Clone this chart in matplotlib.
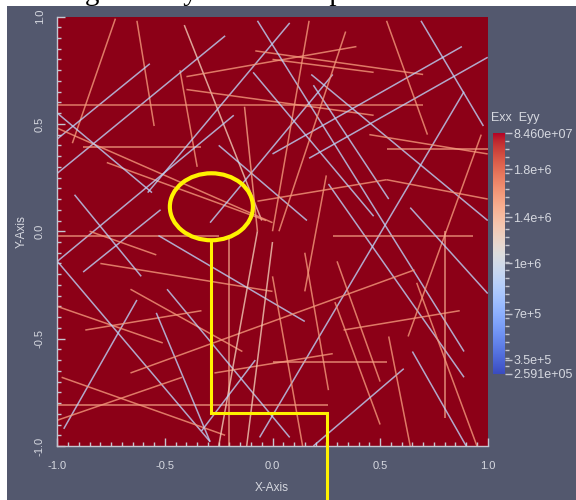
import numpy as np
import matplotlib
matplotlib.use("Agg")
import matplotlib.pyplot as plt
from matplotlib.collections import LineCollection
from matplotlib.colors import FuncNorm
from matplotlib.patches import Ellipse, Rectangle
from matplotlib.ticker import MultipleLocator, FixedLocator

plt.rcParams["font.family"] = ["Liberation Sans", "DejaVu Sans"]

# Fracture segments: endpoints in model coordinates and the strain carried by each
frac_x0 = [-0.73, -0.63, -0.43, -0.41, -0.22, -0.57, -1.00, -0.88, -1.00, -0.77,
           -1.00, 0.08, -0.18, -0.52, -0.25, -0.29, -0.13, -0.40, -0.40, -0.08,
           0.00, -0.07, 0.18, 0.19, 0.26, 0.88, 1.00, 0.53, 0.69, 0.89,
           0.97, 0.45, 0.53, -0.07, 0.53, 0.25, 0.17, 0.34, -1.00, -0.20,
           -1.00, -0.85, -0.80, -0.66, -0.53, -0.49, -0.63, -0.87, -1.00, -1.00,
           -0.54, -0.66, -0.98, -1.00, -0.27, -0.07, 0.00, -0.08, 0.28, 0.80,
           0.64, 0.15, 0.67, 0.33, 0.30, 0.29, 0.61, 0.65, 0.54, 0.00,
           0.00, -0.92, -0.09]
frac_y0 = [0.99, 0.98, 0.75, 0.96, 0.91, 0.78, 0.59, 0.39, 0.48, 0.32,
           0.55, 0.97, 0.54, 0.10, 0.40, 0.04, 0.58, 0.72, 0.66, 0.84,
           0.80, 0.98, 0.73, 0.68, 0.22, 0.86, 0.81, 0.98, 0.98, 0.65,
           0.45, 0.45, 0.385, 0.14, 0.24, 0.26, 0.98, 0.93, -0.02, -0.03,
           -0.81, 0.00, -0.15, -0.27, -0.02, -0.27, -0.32, -0.46, -0.35, -0.14,
           -0.38, -0.66, -0.68, -0.88, -0.66, 0.00, -0.05, -0.60, -0.02, 0.00,
           0.11, -0.10, -0.24, -0.46, -0.14, -0.33, -0.64, -0.56, -0.49, -0.61,
           -0.21, 0.17, 0.74]
frac_x1 = [-0.93, -0.55, -0.35, -0.05, -1.00, -1.00, 0.70, -0.33, 0.00, -0.03,
           -0.56, -0.58, -1.00, -0.88, 0.16, 0.28, -0.07, 0.39, 0.47, 0.70,
           0.47, 0.89, 1.00, 0.54, 0.89, 0.00, 0.17, 0.72, 0.98, -0.06,
           0.63, 1.00, 1.00, 0.53, 1.00, 0.15, 0.00, 0.03, -0.25, -0.20,
           0.26, -0.54, 0.00, -0.14, 0.15, 0.08, -0.97, -0.33, -0.51, -0.29,
           -0.29, 0.66, -0.22, -0.42, 0.28, -0.25, -0.12, -0.33, 0.93, 0.80,
           1.00, 0.26, 0.95, 0.87, 0.50, 0.50, 0.19, 0.90, 0.64, 0.53,
           0.14, -0.61, 0.47]
frac_y1 = [0.41, 0.49, 0.30, 0.05, 0.27, 0.43, 0.59, 0.39, 0.04, 0.05,
           0.18, 0.18, -0.14, -0.19, 0.05, 0.73, 0.00, 0.86, 0.54, 0.73,
           0.74, -0.56, 0.05, 0.15, -0.68, 0.36, 0.34, 0.45, 0.49, -0.96,
           -0.49, 0.36, 0.385, 0.24, 0.15, -0.28, 0.00, 0.00, -0.02, -1.00,
           -0.81, -0.11, -0.28, -0.56, -0.42, -0.96, -0.92, -0.37, -0.52, -0.98,
           -0.98, -0.18, -0.95, -0.68, -0.57, -1.00, -1.00, -0.93, -0.02, -0.87,
           -0.29, -0.74, -1.00, -0.37, -0.70, -0.90, -1.00, -1.00, -1.00, -0.61,
           -1.00, -0.21, 0.07]
frac_strain = [1.6e6, 1.6e6, 1.6e6, 1.3e6, 9.0e5, 9.0e5, 1.6e6, 1.55e6, 1.6e6, 1.6e6,
               9.0e5, 9.0e5, 9.0e5, 9.0e5, 9.0e5, 9.0e5, 1.55e6, 1.6e6, 1.6e6, 1.6e6,
               1.6e6, 9.0e5, 9.0e5, 9.0e5, 9.0e5, 9.0e5, 9.0e5, 1.6e6, 9.0e5, 9.0e5,
               1.6e6, 1.6e6, 1.55e6, 1.6e6, 1.6e6, 1.6e6, 1.6e6, 1.6e6, 1.55e6, 1.5e6,
               1.55e6, 1.6e6, 1.6e6, 1.6e6, 9.0e5, 9.0e5, 9.0e5, 1.6e6, 1.6e6, 9.0e5,
               9.0e5, 1.6e6, 1.6e6, 1.6e6, 1.6e6, 1.3e6, 1.3e6, 9.0e5, 1.55e6, 1.5e6,
               9.0e5, 1.6e6, 1.6e6, 1.6e6, 1.6e6, 1.6e6, 9.0e5, 9.0e5, 1.6e6, 1.55e6,
               1.6e6, 9.0e5, 9.0e5]

# Colour scale: strain levels and where each sits along the bar (0 = bottom, 1 = top)
cbar_levels = [2.591e5, 3.5e5, 7e5, 1e6, 1.4e6, 1.8e6, 8.46e7]
cbar_frac = [0.0, 0.06, 0.25, 0.46, 0.65, 0.85, 1.0]
cbar_labels = ["2.591e+05", "3.5e+5", "7e+5", "1e+6", "1.4e+6", "1.8e+6", "8.460e+07"]
cbar_title = "Exx  Eyy"

x_ticks = [-1.0, -0.5, 0.0, 0.5, 1.0]
y_ticks = [-1.0, -0.5, 0.0, 0.5, 1.0]

# Highlight drawn over the network
ring_center = (-0.284, 0.114)
ring_size = (0.386, 0.312)
leader_x = [-0.284, -0.284, 0.253, 0.253]
leader_y = [-0.042, -0.847, -0.847, -1.30]

slate = "#53586e"
field = "#8c0017"
light = "#d6d8e0"
yellow = "#fff200"

W, H = 576, 500
fig = plt.figure(figsize=(W / 100, H / 100), dpi=100, facecolor="white")
fig.patches.append(Rectangle((7 / W, 0), 1, 494 / H, transform=fig.transFigure,
                             facecolor=slate, edgecolor="none", zorder=-10))
# caption of the surrounding page, mostly above the frame
fig.text(17 / W, 1 - 5.5 / H, "Arrange the layer on the top", family="Liberation Serif",
         fontsize=21, color="black", va="bottom", ha="left", zorder=-20)

norm = FuncNorm((lambda v: np.interp(v, cbar_levels, cbar_frac),
                 lambda f: np.interp(f, cbar_frac, cbar_levels)),
                vmin=cbar_levels[0], vmax=cbar_levels[-1])
cmap = plt.get_cmap("coolwarm")

left, right, top, bottom = 57.3, 487.7, 16.5, 446.0
ax = fig.add_axes([left / W, 1 - bottom / H, (right - left) / W, (bottom - top) / H])
ax.set_facecolor(field)
ax.set_xlim(-1, 1)
ax.set_ylim(-1, 1)

segs = [[(a, b), (c, d)] for a, b, c, d in zip(frac_x0, frac_y0, frac_x1, frac_y1)]
lc = LineCollection(segs, colors=cmap(norm(np.array(frac_strain))), linewidths=1.1,
                    alpha=0.8, capstyle="butt")
ax.add_collection(lc)

for s in ("top", "right"):
    ax.spines[s].set_visible(False)
for s in ("left", "bottom"):
    ax.spines[s].set_color("#c4c6d0")
    ax.spines[s].set_linewidth(1.0)

ax.xaxis.set_major_locator(FixedLocator(x_ticks))
ax.yaxis.set_major_locator(FixedLocator(y_ticks))
ax.xaxis.set_minor_locator(MultipleLocator(0.05))
ax.yaxis.set_minor_locator(MultipleLocator(0.05))
ax.set_xticklabels([f"{v:.1f}" for v in x_ticks])
ax.set_yticklabels([f"{v:.1f}" for v in y_ticks])
ax.tick_params(which="both", direction="in", colors="#c4c6d0", labelcolor=light,
               labelsize=8)
ax.tick_params(which="major", length=6, width=1)
ax.tick_params(which="minor", length=3, width=1)
ax.tick_params(axis="x", pad=11)
ax.tick_params(axis="y", pad=9, labelrotation=90)
for lab in ax.get_yticklabels():
    lab.set_va("center")

fig.text(272 / W, 1 - 488 / H, "X-Axis", color=light, fontsize=8.5,
         ha="center", va="center")
fig.text(22 / W, 1 - 232 / H, "Y-Axis", color=light, fontsize=8.5,
         ha="center", va="center", rotation=90)

ax.add_patch(Ellipse(ring_center, ring_size[0], ring_size[1], fill=False,
                     edgecolor=yellow, linewidth=3.0, zorder=5))
ax.plot(leader_x, leader_y, color=yellow, linewidth=2.2, clip_on=False, zorder=5,
        solid_joinstyle="miter")

# Colour bar drawn as a gradient strip on the same piecewise scale
cax = fig.add_axes([493 / W, 1 - 374 / H, 12 / W, 241 / H])
grad = np.linspace(0, 1, 256).reshape(-1, 1)
cax.imshow(grad, aspect="auto", cmap=cmap, origin="lower", extent=[0, 1, 0, 1])
cax.set_xlim(0, 1)
cax.set_ylim(0, 1)
cax.set_xticks([])
for s in cax.spines.values():
    s.set_visible(False)
cax.yaxis.tick_right()
cax.yaxis.set_major_locator(FixedLocator(norm(np.array(cbar_levels))))
cax.set_yticklabels(cbar_labels)
cax.yaxis.set_minor_locator(MultipleLocator(1 / 30))
cax.tick_params(axis="y", which="both", direction="out", colors="#c4c6d0",
                labelcolor=light, labelsize=9, pad=1)
cax.tick_params(axis="y", which="major", length=5, width=1)
cax.tick_params(axis="y", which="minor", length=3, width=1)
fig.text(491 / W, 1 - 118 / H, cbar_title, color=light, fontsize=9,
         ha="left", va="center")

fig.savefig("out.png", dpi=100, facecolor=fig.get_facecolor())
